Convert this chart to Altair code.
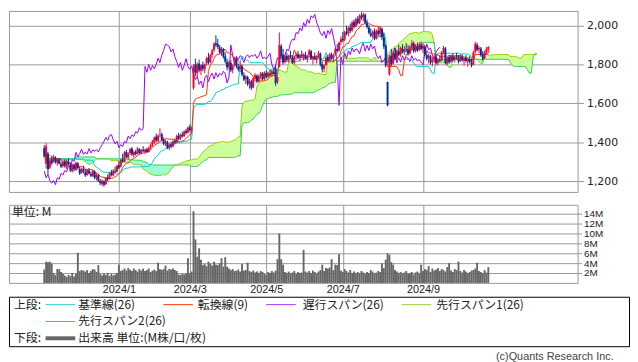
import altair as alt
import pandas as pd
import numpy as np

# ---------------- data ----------------
# trading-day OHLC, Nov 2023 .. Oct 2024
opens = [
    1370,1290,1340,1270,1310,1300,1322,1295,1312,1288,1278,1302,1270,1300,1285,1252,1282,1258,1292,1262,
    1245,1262,1245,1232,1255,1238,1226,1250,1215,1230,1200,1186,1198,1185,1220,1212,1242,1230,1252,1250,
    1282,1275,1312,1300,1350,1322,1345,1368,1335,1352,1342,1365,1342,1362,1352,1365,1352,1375,1390,
    1400,1428,1408,1438,1442,1410,1395,1402,1370,1390,1380,1408,1400,1435,1420,1440,1432,1458,1450,
    1478,1465,1680,1800,1755,1805,1768,1798,1775,1805,1835,1812,1850,1875,1910,1905,1888,1862,1878,1842,
    1812,1788,1808,1772,1798,1828,1788,1778,1790,1745,1725,1735,1700,1712,1682,1728,1742,1715,1738,1752,1728,
    1755,1738,1752,1748,1762,1780,1712,1790,1895,1850,1812,1845,1822,1848,1835,1808,1842,1852,1832,1850,1840,
    1850,1830,1848,1868,1828,1840,1825,1845,1855,1802,1778,1798,1838,1822,1850,1832,1852,1880,1872,1915,
    1932,1928,1968,1960,1990,1975,2018,1998,2035,2015,2052,2042,2055,2012,1990,1960,1950,1968,1932,1972,1958,1982,
    1938,1895,1710,1750,1845,1805,1858,1832,1868,1852,1880,1868,1878,1878,1858,1888,1908,1870,1895,1875,1902,
    1882,1892,1848,1832,1842,1812,1820,1840,1810,1822,1820,1860,1882,1805,1838,1815,1842,1825,1840,
    1830,1818,1842,1820,1835,1815,1828,1810,1800,1865,1902,1878,1882,1850,1832,1862,1878,
]
highs = [
    1385,1395,1350,1312,1330,1336,1328,1318,1320,1300,1308,1312,1310,1318,1296,1290,1292,1300,1298,1275,
    1270,1280,1262,1262,1268,1250,1258,1256,1240,1236,1212,1208,1205,1222,1235,1248,1258,1262,1275,1285,
    1305,1315,1340,1355,1362,1350,1372,1375,1358,1362,1375,1370,1365,1380,1368,1372,1378,1395,1412,
    1430,1445,1440,1472,1450,1425,1415,1408,1395,1402,1410,1418,1440,1448,1445,1455,1462,1470,1482,
    1490,1480,1800,1830,1810,1825,1800,1815,1805,1840,1860,1855,1880,1915,1950,1932,1900,1890,1885,1862,
    1830,1820,1822,1800,1840,1835,1805,1800,1798,1760,1745,1742,1725,1720,1735,1755,1750,1748,1762,1760,1765,
    1770,1762,1772,1770,1780,1795,1740,1965,1905,1880,1850,1860,1850,1870,1848,1845,1862,1870,1855,1872,1858,
    1865,1850,1880,1875,1845,1862,1848,1870,1862,1815,1800,1842,1850,1860,1862,1855,1885,1905,1918,1945,
    1968,1972,2000,1995,2010,2025,2030,2040,2048,2058,2068,2066,2062,2030,2005,1985,1975,1985,1980,1992,1995,1990,
    1960,1900,1712,1850,1880,1870,1885,1878,1900,1892,1905,1895,1910,1900,1898,1925,1918,1905,1912,1915,1918,
    1905,1900,1870,1855,1850,1840,1848,1852,1832,1845,1870,1895,1890,1840,1848,1850,1858,1845,1860,
    1848,1850,1852,1840,1848,1835,1842,1830,1870,1918,1912,1895,1890,1868,1872,1890,1895,
]
lows = [
    1320,1265,1235,1262,1285,1295,1290,1280,1286,1268,1270,1270,1262,1282,1248,1245,1250,1254,1260,1232,
    1238,1240,1222,1228,1235,1220,1222,1210,1205,1196,1180,1175,1172,1180,1200,1208,1225,1226,1240,1245,
    1262,1270,1295,1298,1318,1310,1335,1330,1322,1332,1338,1340,1338,1350,1340,1345,1348,1365,1378,
    1392,1400,1400,1425,1405,1385,1380,1365,1360,1370,1375,1390,1395,1410,1412,1425,1428,1440,1445,
    1455,1450,1670,1740,1735,1760,1745,1765,1755,1795,1800,1805,1835,1865,1890,1880,1855,1845,1830,1805,
    1770,1775,1760,1755,1790,1780,1765,1760,1740,1715,1700,1690,1675,1668,1678,1712,1705,1708,1725,1718,1720,
    1728,1732,1740,1738,1748,1690,1700,1785,1830,1800,1805,1815,1810,1830,1802,1800,1825,1828,1815,1835,1820,
    1825,1810,1838,1825,1800,1822,1805,1832,1790,1758,1760,1792,1812,1815,1825,1815,1845,1862,1865,1900,
    1915,1920,1950,1945,1960,1968,1985,1990,2005,2008,2030,2022,2005,1985,1955,1940,1935,1925,1928,1945,1940,1925,
    1880,1785,1585,1742,1790,1800,1820,1825,1842,1840,1858,1850,1862,1845,1850,1875,1860,1862,1865,1870,1872,
    1860,1842,1820,1805,1800,1790,1808,1800,1795,1812,1815,1852,1800,1795,1805,1810,1815,1810,1825,
    1805,1812,1815,1795,1810,1790,1805,1785,1795,1855,1868,1858,1840,1820,1828,1850,1860,
]
closes = [
    1328,1380,1262,1305,1292,1325,1298,1310,1290,1275,1300,1280,1305,1288,1255,1285,1262,1295,1268,1240,
    1265,1248,1230,1258,1240,1228,1252,1218,1235,1202,1190,1204,1182,1218,1210,1240,1232,1255,1248,1280,
    1270,1310,1302,1348,1325,1342,1365,1338,1350,1340,1368,1345,1360,1355,1362,1350,1372,1388,1405,
    1425,1410,1435,1440,1412,1392,1405,1372,1388,1378,1405,1398,1432,1418,1438,1430,1455,1448,1475,
    1462,1470,1790,1760,1800,1770,1795,1778,1800,1832,1810,1848,1872,1905,1900,1890,1865,1880,1840,1815,
    1785,1810,1770,1795,1830,1790,1775,1792,1748,1722,1738,1698,1715,1680,1730,1745,1712,1740,1755,1725,1758,
    1735,1755,1745,1765,1752,1705,1735,1900,1845,1810,1842,1825,1845,1838,1810,1840,1850,1835,1848,1842,1852,
    1832,1845,1870,1830,1838,1828,1842,1858,1800,1775,1795,1835,1820,1852,1830,1848,1878,1870,1912,1930,
    1925,1965,1958,1988,1972,2015,1995,2032,2012,2050,2040,2058,2015,1992,1962,1948,1970,1935,1975,1955,1985,1940,
    1892,1795,1590,1840,1800,1860,1830,1870,1850,1885,1865,1880,1875,1855,1890,1910,1868,1898,1872,1905,1880,
    1895,1850,1830,1845,1810,1822,1838,1808,1825,1818,1862,1885,1808,1835,1812,1845,1822,1838,1832,
    1815,1845,1822,1832,1818,1825,1812,1798,1862,1905,1875,1885,1848,1830,1865,1880,1888,
]
# volume, millions of shares
volumes = [
    2.7,4.3,4.2,4.3,3.9,2.0,1.6,2.8,2.8,2.2, 1.8,1.5,1.2,1.6,1.4,2.0,1.3,1.9,6.1,2.4,
    2.6,2.5,2.3,2.6,2.0,2.4,2.8,2.7,2.2,3.6, 1.8,1.5,1.9,1.6,2.0,1.4,1.8,1.5,1.7,2.0,
    3.7,2.4,2.6,2.9,2.5,3.0,2.7,2.4,2.9,2.6, 2.3,2.8,2.5,2.9,2.4,2.6,2.9,2.2,2.5,2.7,
    2.4,4.1,2.8,2.6,2.8,3.5,2.5,2.8,2.7,2.9, 2.6,2.4,1.7,1.6,1.8,1.7,1.9,5.0,2.0,2.3,
    14.5,8.8,5.3,7.0,4.7,3.6,3.8,3.4,4.3,3.9, 3.5,4.3,3.7,3.6,4.0,5.0,3.3,5.2,3.3,2.9,
    2.6,2.8,2.4,2.5,2.7,2.3,3.8,2.5,2.6,4.1, 2.4,2.2,2.5,2.1,2.3,2.0,2.4,2.2,1.8,1.6,
    2.2,2.0,2.4,2.1,2.5,4.8,10.0,4.8,3.7,2.2, 2.0,2.3,1.9,2.1,2.4,1.8,2.2,2.0,2.1,6.7,
    2.3,2.1,2.4,2.0,2.5,2.2,1.9,2.3,2.6,3.7, 2.4,3.0,2.9,3.1,4.8,2.6,3.7,3.6,5.8,2.5,
    2.2,2.8,2.4,2.1,2.6,2.0,2.3,1.9,2.2,2.0, 2.4,2.1,1.8,2.2,2.0,2.6,2.3,1.9,2.1,2.4,
    2.2,4.0,3.0,4.7,6.0,5.7,4.2,3.7,2.6,2.3, 2.0,2.2,1.9,2.1,2.4,1.8,2.0,2.2,1.7,2.1,
    2.3,1.9,3.7,2.4,2.8,2.6,3.4,2.2,2.9,2.5, 2.7,3.0,2.4,2.8,2.6,2.3,3.2,4.0,2.5,2.2,
    2.8,2.6,4.3,2.4,2.1,2.6,2.3,2.0,2.2,2.5, 2.6,2.9,4.1,2.4,2.2,2.0,2.6,2.1,3.2,
]
# leading spans on the first displayed days (their source days lie before the window)
span1_head = [1365,1355,1342,1332,1325,1320,1317,1315,1315,1315,1315,1315,1315,1315,
              1315,1315,1315,1315,1312,1312,1310,1308,1300,1292,1286,1288,1298,1305]
span2_head = [1310,1310,1310,1310,1310,1310,1310,1310,1310,1310,1310,1310,1310,1310,
              1310,1310,1310,1325,1325,1325,1325,1325,1325,1325,1325,1325,1325,1325]

month_labels = ["2024/1", "2024/3", "2024/5", "2024/7", "2024/9"]
month_start_idx = [40, 78, 119, 160, 203]
price_ticks = [1200, 1400, 1600, 1800, 2000]
price_tick_labels = ["1,200", "1,400", "1,600", "1,800", "2,000"]
vol_ticks = [2, 4, 6, 8, 10, 12, 14]

series_names = ["span1", "span2", "chikou", "kijun", "tenkan"]
legend_labels = ["基準線(26)", "転換線(9)", "遅行スパン(26)", "先行スパン1(26)",
                 "先行スパン2(26)", "出来高 単位:(M株/口/枚)"]
section_labels = ["上段:", "下段:"]
unit_label = "単位: M"
copyright_text = "(c)Quants Research Inc."

assert len(opens) == len(highs) == len(lows) == len(closes) == len(volumes), \
    (len(opens), len(highs), len(lows), len(closes), len(volumes))

# ---------------- styles / layout ----------------
GRID = "#999999"
UP, DOWN = "#ff0033", "#003399"
series_colors = ["#99cc00", "#33cc66", "#9900ff", "#00cccc", "#ff3300"]
legend_colors = ["#33cccc", "#ff3300", "#9933ff", "#99cc33", "#33cc66", "#666666"]
legend_rows = [0, 0, 0, 0, 1, 2]
legend_line_x0 = [37, 156, 260, 397, 37, 37]
legend_text_x = [70, 191, 297, 432, 70, 70]
legend_line_w = [1, 1, 1, 1, 1, 4]
section_rows = [0, 2]
section_x = [5, 5]
row_y = [8, 25, 42]
LINE_LEN = 30
JP = "Noto Sans CJK JP"
W = 575

# ---------------- derived ----------------
n = len(closes)
idx = list(range(n))
df = pd.DataFrame({"idx": idx, "o": opens, "h": highs, "l": lows, "c": closes, "vol": volumes})
df["dir"] = np.where(df["c"] >= df["o"], "up", "down")

H, L = df["h"], df["l"]
tenkan = (H.rolling(9, min_periods=1).max() + L.rolling(9, min_periods=1).min()) / 2
kijun = (H.rolling(26, min_periods=1).max() + L.rolling(26, min_periods=1).min()) / 2
s1_raw = (tenkan + kijun) / 2
s2_raw = (H.rolling(52, min_periods=1).max() + L.rolling(52, min_periods=1).min()) / 2
SHIFT = 26
s1, s2 = [], []
for k in range(n + SHIFT):
    if k < len(span1_head):
        s1.append(span1_head[k]); s2.append(span2_head[k])
    else:
        s1.append(float(s1_raw[k - SHIFT])); s2.append(float(s2_raw[k - SHIFT]))
cloud = pd.DataFrame({"idx": range(n + SHIFT), "s1": s1, "s2": s2})
cloud["lo"] = cloud[["s1", "s2"]].min(axis=1)

lines = pd.concat([
    pd.DataFrame({"idx": cloud["idx"], "v": cloud["s1"], "series": "span1"}),
    pd.DataFrame({"idx": cloud["idx"], "v": cloud["s2"], "series": "span2"}),
    pd.DataFrame({"idx": [i - SHIFT for i in range(SHIFT, n)], "v": closes[SHIFT:], "series": "chikou"}),
    pd.DataFrame({"idx": idx, "v": kijun, "series": "kijun"}),
    pd.DataFrame({"idx": idx, "v": tenkan, "series": "tenkan"}),
], ignore_index=True)

X_SCALE = alt.Scale(domain=[-16.25, 283.2], nice=False, zero=False)
P_SCALE = alt.Scale(domain=[1145, 2075], nice=False, zero=False)

xgrid = alt.Axis(values=month_start_idx, grid=True, gridColor=GRID, labels=False,
                 ticks=False, domain=False, title=None)
price_expr = "".join(f"datum.value == {v} ? '{t}' : " for v, t in zip(price_ticks, price_tick_labels)) + "''"
price_axis = alt.Axis(orient="right", values=price_ticks, labelExpr=price_expr, grid=True, gridColor=GRID,
                      tickColor=GRID, tickSize=6, domain=False, labelFont="DejaVu Sans",
                      labelFontSize=11, labelColor="#222222", labelPadding=3, title=None)


def XE():
    return alt.X("idx:Q", scale=X_SCALE, axis=xgrid)


def PY(f):
    return alt.Y(f"{f}:Q", scale=P_SCALE, axis=price_axis)


area_yg = alt.Chart(cloud).mark_area(color="#ccff99", opacity=1).encode(
    x=XE(), y=PY("s1"), y2=alt.Y2("lo"))
area_mint = alt.Chart(cloud).mark_area(color="#99ffcc", opacity=1).encode(
    x=XE(), y=PY("s2"), y2=alt.Y2("lo"))
line_layer = alt.Chart(lines).mark_line(strokeWidth=1).encode(
    x=XE(), y=PY("v"),
    stroke=alt.Stroke("series:N", scale=alt.Scale(domain=series_names, range=series_colors), legend=None),
    detail="series:N")
up_df = df[df["dir"] == "up"]
dn_df = df[df["dir"] == "down"]
wicks_up = alt.Chart(up_df).mark_rule(strokeWidth=1, color=UP).encode(x=XE(), y=PY("l"), y2=alt.Y2("h"))
wicks_dn = alt.Chart(dn_df).mark_rule(strokeWidth=1, color=DOWN).encode(x=XE(), y=PY("l"), y2=alt.Y2("h"))
bodies_up = alt.Chart(up_df).mark_bar(width=2, color=UP).encode(x=XE(), y=PY("o"), y2=alt.Y2("c"))
bodies_dn = alt.Chart(dn_df).mark_bar(width=2, color=DOWN).encode(x=XE(), y=PY("o"), y2=alt.Y2("c"))

price = alt.layer(area_yg, area_mint, line_layer, wicks_up, wicks_dn, bodies_up, bodies_dn).properties(
    width=W, height=183)

label_expr = "".join(f"datum.value == {v} ? '{t}' : " for v, t in zip(month_start_idx, month_labels)) + "''"
vol_x_axis = alt.Axis(values=month_start_idx, grid=True, gridColor=GRID, ticks=False, domain=False,
                      labelExpr=label_expr, labelFont="Liberation Sans", labelFontSize=11,
                      labelColor="#222222", labelPadding=1, title=None)
vol_y_axis = alt.Axis(orient="right", values=vol_ticks, labelExpr="datum.value + 'M'", grid=True,
                      gridColor=GRID, tickColor=GRID, tickSize=4, domain=False, labelOverlap=False,
                      labelFont="Liberation Sans", labelFontSize=10, labelColor="#222222",
                      labelPadding=2, title=None)
vol_bars = alt.Chart(df).mark_bar(width=1.9, color="#666666").encode(
    x=alt.X("idx:Q", scale=X_SCALE, axis=vol_x_axis),
    y=alt.Y("vol:Q", scale=alt.Scale(domain=[0, 15.8], nice=False), axis=vol_y_axis))
unit_text = alt.Chart(pd.DataFrame({"t": [unit_label]})).mark_text(
    align="left", baseline="middle", font=JP, fontSize=12, color="#222222").encode(
    x=alt.value(3), y=alt.value(7), text="t:N")
volume = alt.layer(vol_bars, unit_text).properties(width=W, height=79)

# legend box
LW, LH = 627, 50
leg = pd.DataFrame({"label": legend_labels, "color": legend_colors,
                    "x0": legend_line_x0, "tx": legend_text_x, "w": legend_line_w,
                    "y": [row_y[r] for r in legend_rows]})
leg["x1"] = leg["x0"] + LINE_LEN
sec = pd.DataFrame({"label": section_labels, "tx": section_x, "y": [row_y[r] for r in section_rows]})
LX = alt.Scale(domain=[0, LW], nice=False, zero=False)
LY = alt.Scale(domain=[0, LH], nice=False, zero=False, reverse=True)
leg_rules = alt.Chart(leg).mark_rule().encode(
    x=alt.X("x0:Q", scale=LX, axis=None), x2="x1:Q",
    y=alt.Y("y:Q", scale=LY, axis=None),
    stroke=alt.Stroke("color:N", scale=None),
    strokeWidth=alt.StrokeWidth("w:Q", scale=None))
leg_text = alt.Chart(leg).mark_text(align="left", baseline="middle", font=JP, fontSize=12,
                                    color="#222222").encode(
    x=alt.X("tx:Q", scale=LX, axis=None), y=alt.Y("y:Q", scale=LY, axis=None), text="label:N")
sec_text = alt.Chart(sec).mark_text(align="left", baseline="middle", font=JP, fontSize=12,
                                    color="#222222").encode(
    x=alt.X("tx:Q", scale=LX, axis=None), y=alt.Y("y:Q", scale=LY, axis=None), text="label:N")
legend = alt.layer(leg_rules, leg_text, sec_text).properties(
    width=LW, height=LH, view=alt.ViewBackground(stroke="#000000", strokeWidth=1))

top = alt.vconcat(price, volume, spacing=11)
chart = alt.vconcat(top, legend, spacing=0).properties(
    padding=0,
    title=alt.TitleParams(copyright_text, orient="bottom", anchor="end", font="Liberation Sans",
                          fontSize=11, fontWeight="normal", color="#444444", dx=-16, offset=4)
).configure_view(stroke=GRID)

chart.save("out.html", embed_options={"renderer": "svg", "actions": False})
